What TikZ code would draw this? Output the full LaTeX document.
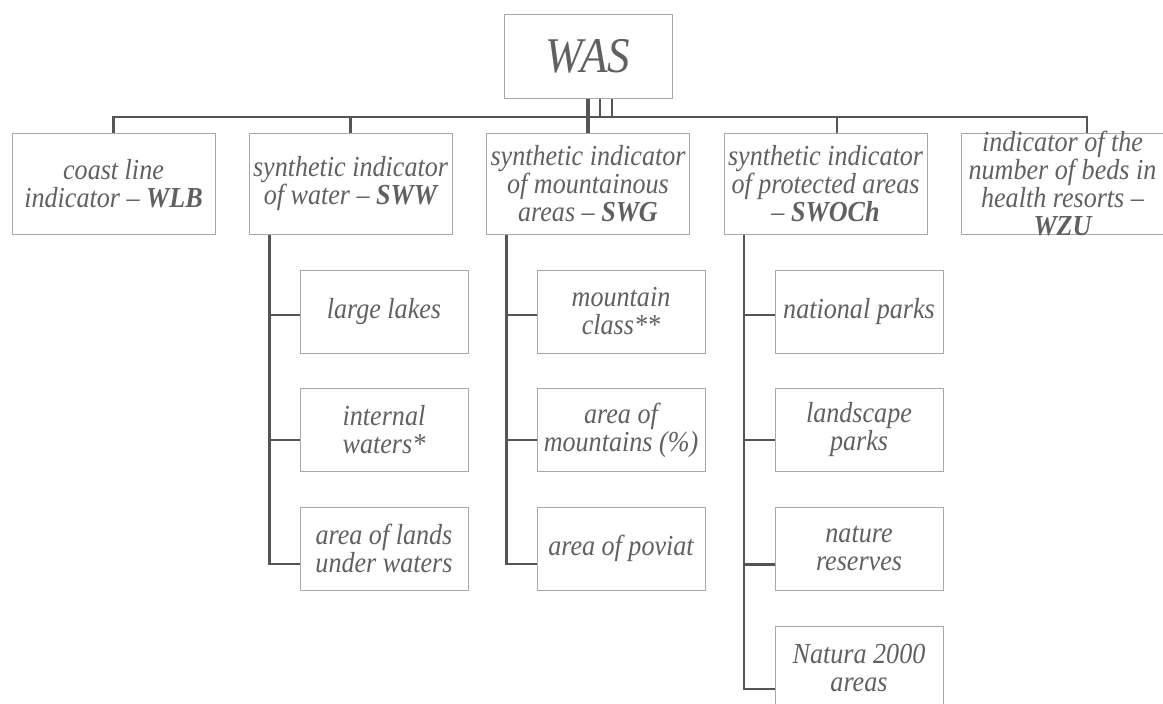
\documentclass[tikz,border=0pt]{standalone}
\usepackage{fontspec}
\setmainfont{Liberation Serif}[FakeStretch=0.9]
\usepackage{tikz}

\definecolor{linegray}{HTML}{555555}
\definecolor{boxgray}{HTML}{A8A8A8}
\definecolor{textgray}{HTML}{606060}

\begin{document}
\begin{tikzpicture}[x=1pt,y=-1pt,
  every node/.style={font=\fontsize{29}{28}\selectfont\itshape,
  text=textgray,align=center,inner sep=0pt},
  topbox/.style={draw=boxgray,line width=1pt,minimum width=203,minimum height=101},
  subbox/.style={draw=boxgray,line width=1pt,minimum width=168,minimum height=83},
  conn/.style={draw=linegray,line width=2.6pt},]

  \useasboundingbox (0,0) rectangle (1163,704);

  % root
  \node[draw=boxgray,line width=1pt,minimum width=168,minimum height=84,
    font=\fontsize{50}{52}\selectfont\itshape] (was) at (588,56) {WAS};

  % first level
  \node[topbox] (wlb) at (113.5,183.5) {coast line\\indicator -- \textbf{WLB}};
  \node[topbox] (sww) at (350.5,183.5) {synthetic indicator\\of water -- \textbf{SWW}};
  \node[topbox] (swg) at (588,183.5) {synthetic indicator\\of mountainous\\areas -- \textbf{SWG}};
  \node[topbox] (swoch) at (825.5,183.5) {synthetic indicator\\of protected areas\\-- \textbf{SWOCh}};
  \node[topbox,inner ysep=-4pt] (wzu) at (1062.5,183.5) {indicator of the\\number of beds in\\health resorts --\\\textbf{WZU}};

  % water
  \node[subbox] (lakes) at (384,311.5) {large lakes};
  \node[subbox] (inwat) at (384,430) {internal\\waters*};
  \node[subbox] (lands) at (384,548.5) {area of lands\\under waters};

  % mountains
  \node[subbox] (mclass) at (621,311.5) {mountain\\class**};
  \node[subbox] (marea) at (621,430) {area of\\mountains (\%)};
  \node[subbox] (poviat) at (621,548.5) {area of poviat};

  % protected areas
  \node[subbox] (npark) at (859,311.5) {national parks};
  \node[subbox] (lpark) at (859,430) {landscape\\parks};
  \node[subbox] (nres) at (859,548.5) {nature\\reserves};
  \node[subbox] (natura) at (859,667.5) {Natura 2000\\areas};

  % bus below the root
  \coordinate (bus) at (588,117);
  \draw[conn] (wlb.north) |- (bus) -| ([xshift=24.5]wzu.north);
  \draw[conn] (sww.north) -- (sww.north |- bus);
  \draw[conn] ([xshift=11.5]swoch.north) -- ([xshift=11.5]swoch.north |- bus);
  \draw[conn,line width=3.4pt] (was.south) -- (swg.north);
  \draw[conn,line width=1.8pt] ([xshift=12]was.south) -- ([xshift=12]was.south |- bus);
  \draw[conn,line width=1.8pt] ([xshift=24]was.south) -- ([xshift=24]was.south |- bus);

  % trunks
  \foreach \c/\s in {lakes/-3.5,inwat/-10,lands/-15.5}
    \draw[conn] ([xshift=21]sww.south west) |- ([yshift=\s]\c.west);
  \foreach \c/\s in {mclass/-3.5,marea/-10,poviat/-15.5}
    \draw[conn] ([xshift=20.5]swg.south west) |- ([yshift=\s]\c.west);
  \foreach \c/\s in {npark/-3.5,lpark/-10,nres/-16,natura/-21.5}
    \draw[conn] ([xshift=20.5]swoch.south west) |- ([yshift=\s]\c.west);

\end{tikzpicture}
\end{document}
